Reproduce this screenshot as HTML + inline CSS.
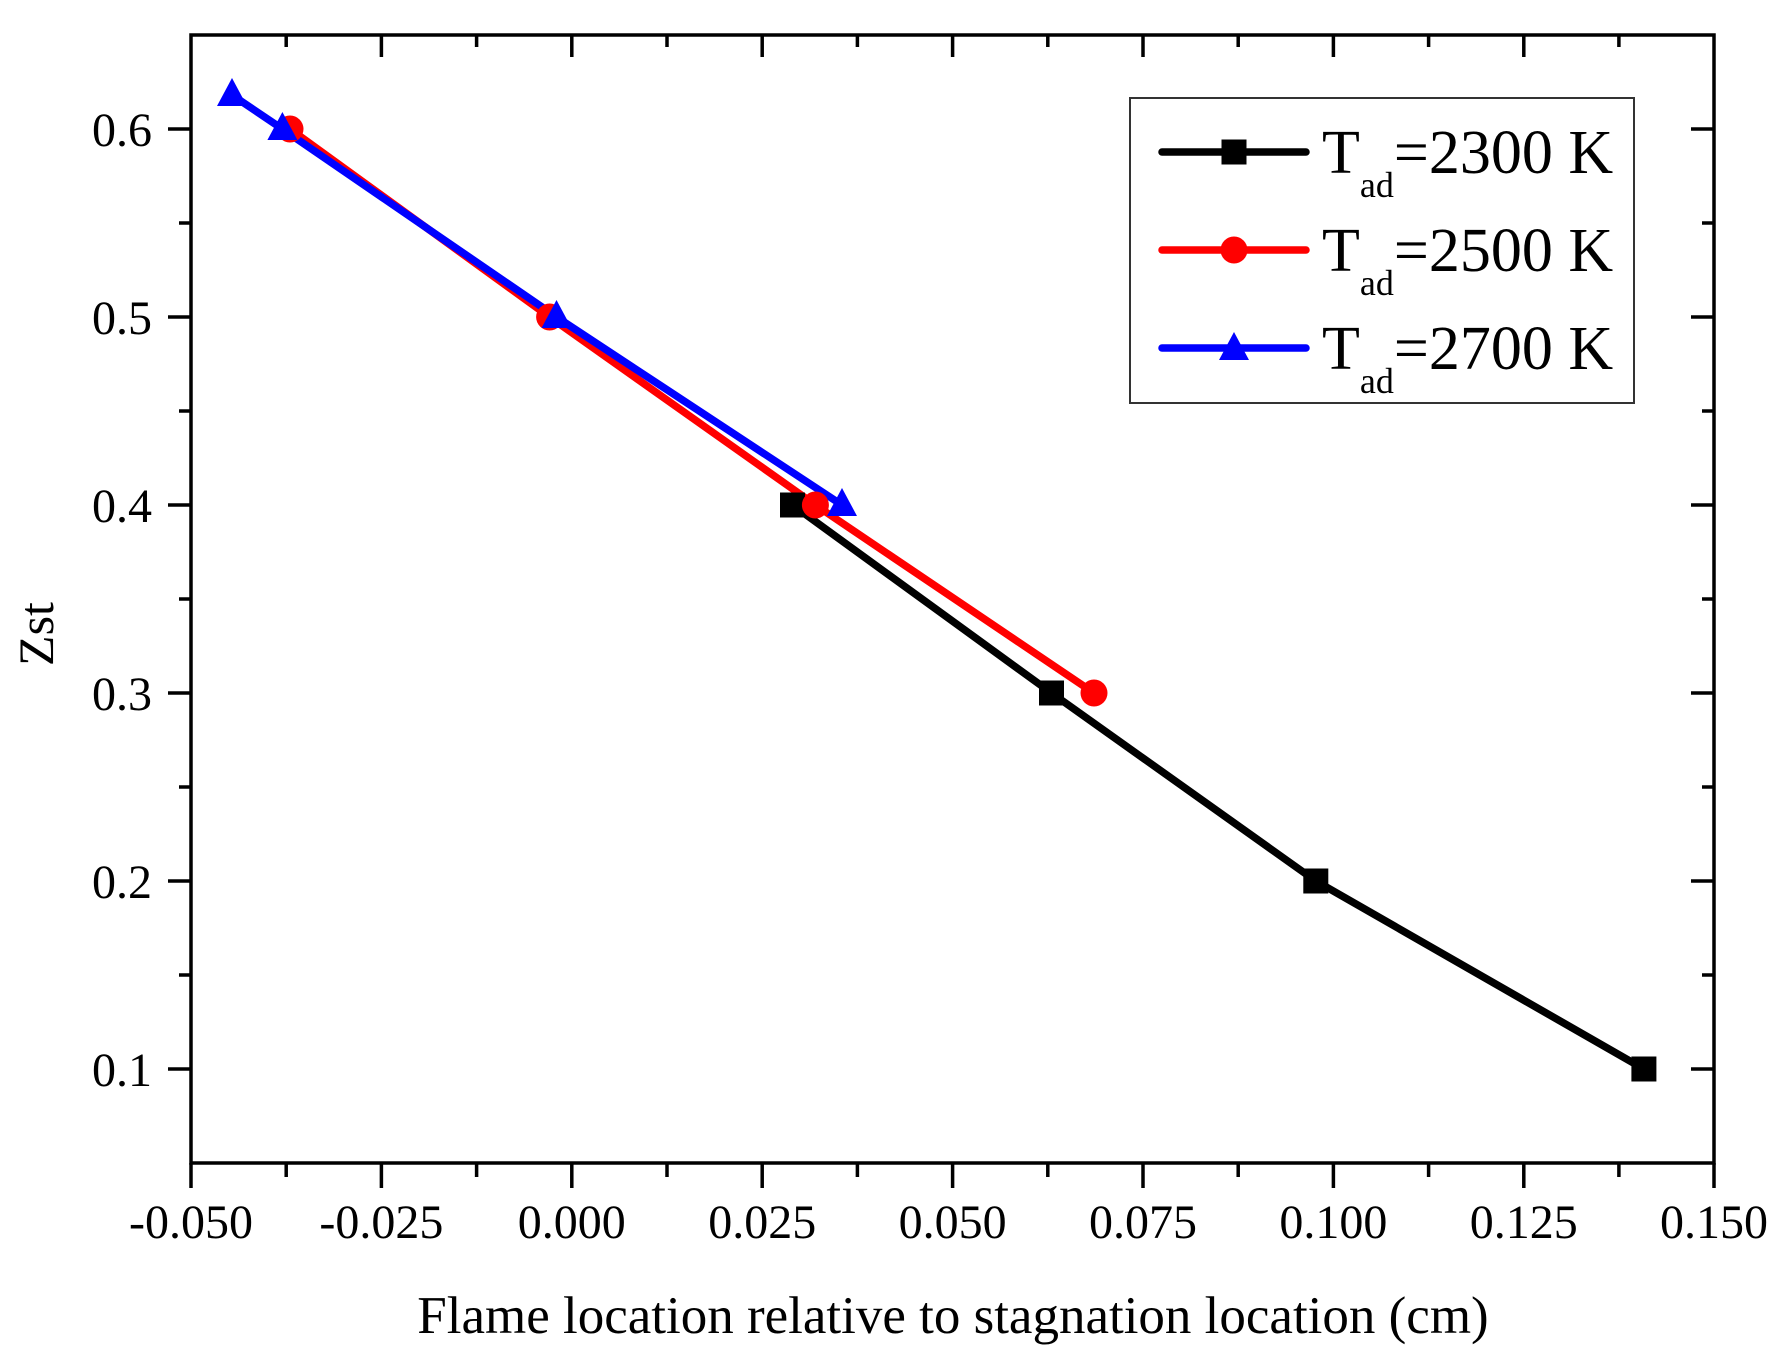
<!DOCTYPE html>
<html><head><meta charset="utf-8"><style>
html,body{margin:0;padding:0;background:#fff;}
svg{display:block;}
text{font-family:"Liberation Serif",serif;fill:#000;}
</style></head><body>
<svg width="1784" height="1347" viewBox="0 0 1784 1347" xmlns="http://www.w3.org/2000/svg">
<rect width="1784" height="1347" fill="#fff"/>
<rect x="191" y="35" width="1523" height="1128" fill="none" stroke="#000" stroke-width="3.5"/>
<g stroke="#000" stroke-width="3.5">
<path d="M191 1163v25M381.4 1163v25M571.8 1163v25M762.2 1163v25M952.6 1163v25M1143 1163v25M1333.4 1163v25M1523.8 1163v25M1714 1163v25"/>
<path d="M286.2 1163v14M476.6 1163v14M667 1163v14M857.4 1163v14M1047.8 1163v14M1238.2 1163v14M1428.6 1163v14M1618.9 1163v14"/>
<path d="M381.4 35v22M571.8 35v22M762.2 35v22M952.6 35v22M1143 35v22M1333.4 35v22M1523.8 35v22"/>
<path d="M286.2 35v12M476.6 35v12M667 35v12M857.4 35v12M1047.8 35v12M1238.2 35v12M1428.6 35v12M1618.9 35v12"/>
<path d="M168 1069h23M168 881h23M168 693h23M168 505h23M168 317h23M168 129h23"/>
<path d="M179 975h12M179 787h12M179 599h12M179 411h12M179 223h12"/>
<path d="M1691 1069h23M1691 881h23M1691 693h23M1691 505h23M1691 317h23M1691 129h23"/>
<path d="M1702 975h12M1702 787h12M1702 599h12M1702 411h12M1702 223h12"/>
</g>
<g font-size="48" text-anchor="end">
<text x="152" y="1086">0.1</text>
<text x="152" y="898">0.2</text>
<text x="152" y="710">0.3</text>
<text x="152" y="522">0.4</text>
<text x="152" y="334">0.5</text>
<text x="152" y="146">0.6</text>
</g>
<g font-size="48" text-anchor="middle">
<text x="191" y="1238">-0.050</text>
<text x="381.4" y="1238">-0.025</text>
<text x="571.8" y="1238">0.000</text>
<text x="762.2" y="1238">0.025</text>
<text x="952.6" y="1238">0.050</text>
<text x="1143" y="1238">0.075</text>
<text x="1333.4" y="1238">0.100</text>
<text x="1523.8" y="1238">0.125</text>
<text x="1714" y="1238">0.150</text>
</g>
<text x="953" y="1333" font-size="53" text-anchor="middle">Flame location relative to stagnation location (cm)</text>
<text transform="translate(53,634) rotate(-90)" font-size="50" text-anchor="middle">Zst</text>
<g fill="none" stroke-width="7.5" stroke-linejoin="round">
<polyline stroke="#000" points="792.6,505 1051.5,693 1315.8,881 1643.9,1069"/>
<polyline stroke="#ff0000" points="290,129 549.6,317 815.4,505 1094,693"/>
<polyline stroke="#0000ff" points="232,95 282.4,129 556.5,317 842,505"/>
</g>
<g fill="#000">
<rect x="780" y="492.5" width="25" height="25"/>
<rect x="1039" y="680.5" width="25" height="25"/>
<rect x="1303.3" y="868.5" width="25" height="25"/>
<rect x="1631.4" y="1056.5" width="25" height="25"/>
</g>
<g fill="#ff0000">
<circle cx="290" cy="129" r="13.5"/>
<circle cx="549.6" cy="317" r="13.5"/>
<circle cx="815.4" cy="505" r="13.5"/>
<circle cx="1094" cy="693" r="13.5"/>
</g>
<g fill="#0000ff">
<polygon points="232,78 247,106 217,106"/>
<polygon points="282.4,112 297.4,140 267.4,140"/>
<polygon points="556.5,300 571.5,328 541.5,328"/>
<polygon points="842,488 857,516 827,516"/>
</g>
<rect x="1130" y="98" width="504" height="305" fill="#fff" stroke="#333" stroke-width="2"/>
<g stroke-width="7.5" stroke-linecap="round">
<line x1="1162" y1="152" x2="1306" y2="152" stroke="#000"/>
<line x1="1162" y1="250" x2="1306" y2="250" stroke="#ff0000"/>
<line x1="1162" y1="348" x2="1306" y2="348" stroke="#0000ff"/>
</g>
<rect x="1221.5" y="139.5" width="25" height="25" fill="#000"/>
<circle cx="1234" cy="250" r="13.5" fill="#ff0000"/>
<polygon points="1234,332 1249,360 1219,360" fill="#0000ff"/>
<g font-size="62">
<text x="1322" y="173">T<tspan font-size="36" dy="24">ad</tspan><tspan dy="-24">=2300 K</tspan></text>
<text x="1322" y="271">T<tspan font-size="36" dy="24">ad</tspan><tspan dy="-24">=2500 K</tspan></text>
<text x="1322" y="369">T<tspan font-size="36" dy="24">ad</tspan><tspan dy="-24">=2700 K</tspan></text>
</g>
</svg>
</body></html>
